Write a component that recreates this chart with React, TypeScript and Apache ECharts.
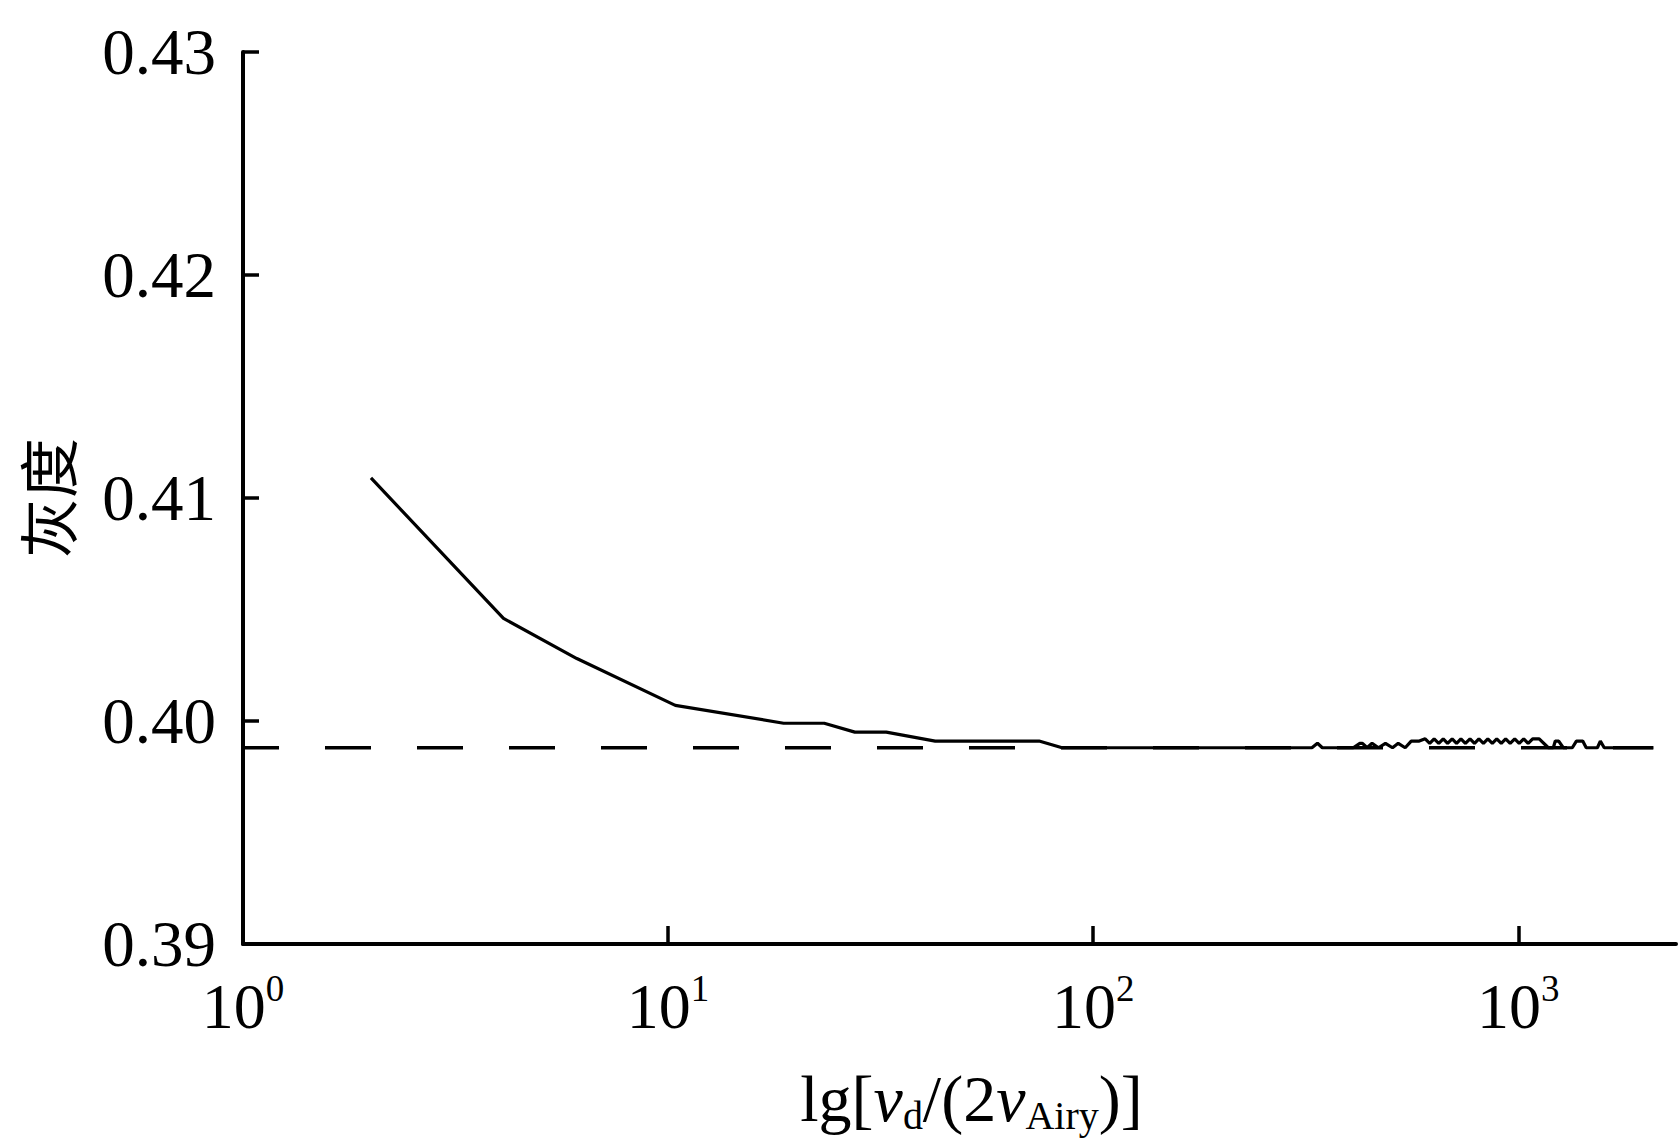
import React, { useEffect, useRef } from "react";
import * as echarts from "echarts";

// Gray level curve: x = v_d/(2 v_Airy) (log axis), y = gray level
const curveX = [
  2, 4.1, 6.1, 10.4, 18.7, 23.3, 27.5, 32.6, 42.5, 74.6, 84.5,
  327, 337, 346, 409, 424, 430, 441, 453, 469, 487, 506, 522, 542, 560, 585,
  604, 619, 634, 650, 666, 682, 699, 716, 733, 751, 770, 789, 808, 828, 848,
  869, 890, 912, 934, 957, 981, 1005, 1030, 1055, 1081, 1120,
  1177, 1209, 1222, 1245, 1276, 1340, 1370, 1418, 1445, 1535, 1560, 1593, 2078,
];
const curveY = [
  0.4109, 0.4046, 0.4028, 0.4007, 0.3999, 0.3999, 0.3995, 0.3995, 0.3991, 0.3991, 0.3988,
  0.3988, 0.399, 0.3988, 0.3988, 0.399, 0.399, 0.3988, 0.399, 0.3988, 0.399, 0.3988, 0.399, 0.3988, 0.3991, 0.3991,
  0.3992, 0.399, 0.3992, 0.399, 0.3992, 0.399, 0.3992, 0.399, 0.3992, 0.399, 0.3992, 0.399, 0.3992, 0.399, 0.3992,
  0.399, 0.3992, 0.399, 0.3992, 0.399, 0.3992, 0.399, 0.3992, 0.399, 0.3992, 0.3992,
  0.3988, 0.3988, 0.3991, 0.3991, 0.3988, 0.3988, 0.3991, 0.3991, 0.3988, 0.3988, 0.3991, 0.3988, 0.3988,
];

// Reference (asymptote) dashed line
const refX = [1, 2078];
const refY = [0.3988, 0.3988];

const xTickValues = [1, 10, 100, 1000];
const yMin = 0.39;
const yMax = 0.43;
const yInterval = 0.01;

const FONT = '"Liberation Serif", "Times New Roman", serif';

export default function App() {
  const ref = useRef<HTMLDivElement>(null);

  useEffect(() => {
    document.body.style.margin = "0";
    if (!ref.current) return;
    const chart = echarts.init(ref.current, null, { renderer: "svg" });
    const curve = curveX.map((x, i) => [x, curveY[i]]);
    const refLine = refX.map((x, i) => [x, refY[i]]);

    chart.setOption({
      animation: false,
      backgroundColor: "#ffffff",
      grid: { left: 243, top: 52, right: 2, bottom: 202, containLabel: false },
      xAxis: {
        type: "log",
        logBase: 10,
        min: 1,
        max: 2350,
        name: "{n|lg[}{i|v}{s|d}{n|/(2}{i|v}{s|Airy}{n|)]}",
        nameLocation: "middle",
        nameGap: 117,
        nameTextStyle: {
          color: "#000",
          padding: [0, 0, 0, 24],
          rich: {
            n: { fontFamily: FONT, fontSize: 66, lineHeight: 74, color: "#000" },
            i: { fontFamily: FONT, fontSize: 66, lineHeight: 74, fontStyle: "italic", color: "#000" },
            s: { fontFamily: FONT, fontSize: 40, lineHeight: 42, verticalAlign: "bottom", color: "#000" },
          },
        },
        axisLine: { show: true, lineStyle: { color: "#000", width: 4 } },
        axisTick: {
          show: true,
          inside: true,
          length: 18,
          customValues: xTickValues,
          lineStyle: { color: "#000", width: 3.5 },
        },
        minorTick: { show: false },
        splitLine: { show: false },
        axisLabel: {
          customValues: xTickValues,
          margin: 26,
          formatter: (v: number) => `{a|10}{b|${Math.round(Math.log10(v))}}`,
          rich: {
            a: { fontFamily: FONT, fontSize: 64, lineHeight: 72, color: "#000" },
            b: { fontFamily: FONT, fontSize: 37, lineHeight: 54, verticalAlign: "top", color: "#000" },
          },
        },
      },
      yAxis: {
        type: "value",
        min: yMin,
        max: yMax,
        interval: yInterval,
        name: "灰度",
        nameLocation: "middle",
        nameRotate: 90,
        nameGap: 168,
        nameTextStyle: {
          fontFamily: '"Noto Sans CJK SC", sans-serif',
          fontSize: 60,
          color: "#000",
        },
        axisLine: { show: true, lineStyle: { color: "#000", width: 4 } },
        axisTick: { show: true, inside: true, length: 16, lineStyle: { color: "#000", width: 3.5 } },
        splitLine: { show: false },
        axisLabel: {
          margin: 27,
          fontFamily: FONT,
          fontSize: 65,
          color: "#000",
          formatter: (v: number) => v.toFixed(2),
        },
      },
      series: [
        {
          type: "line",
          data: refLine,
          symbol: "none",
          z: 1,
          lineStyle: { color: "#000", width: 3.5, type: [46, 46], dashOffset: 10 },
        },
        {
          type: "line",
          data: curve,
          symbol: "none",
          z: 2,
          lineStyle: { color: "#000", width: 3.2 },
        },
      ],
    });

    return () => chart.dispose();
  }, []);

  return <div ref={ref} style={{ width: 1678, height: 1146 }} />;
}
